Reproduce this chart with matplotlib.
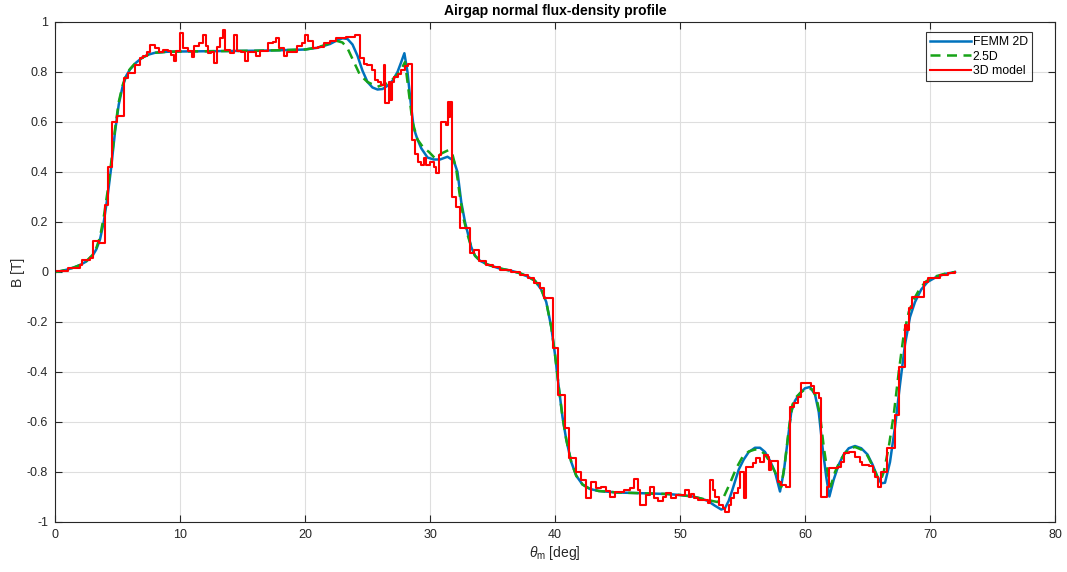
import matplotlib
matplotlib.use("Agg")
import matplotlib.pyplot as plt
from matplotlib.ticker import FuncFormatter

plt.rcParams['font.family'] = ['Liberation Sans', 'DejaVu Sans']
plt.rcParams['axes.unicode_minus'] = False
plt.rcParams['mathtext.fontset'] = 'custom'
plt.rcParams['mathtext.it'] = 'Liberation Sans:italic'
plt.rcParams['mathtext.rm'] = 'Liberation Sans'

# FEMM 2D solution (mechanical angle in deg, normal flux density in T)
theta_femm = [0, 0.5, 1, 1.5, 2, 2.5, 3, 3.3, 3.6, 3.9, 4.2, 4.5, 4.8, 5.1, 5.4,
              5.7, 6.0, 6.5, 7.0, 7.5, 8.0, 9.0, 10, 12, 14, 16, 18, 20, 21, 22,
              22.5, 23.0, 23.4, 23.8, 24.2, 24.6, 25.0, 25.4, 25.8, 26.2, 26.6,
              27.0, 27.4, 27.7, 27.95, 28.2, 28.45, 28.7, 29.0, 29.3, 29.8, 30.3,
              30.8, 31.4, 31.9, 32.2, 32.5, 32.8, 33.0, 33.3, 33.6, 34.0, 34.6,
              35.5, 36.5, 37.2, 37.8, 38.4, 38.9, 39.3, 39.7, 40.0, 40.3, 40.6,
              40.9, 41.3, 41.7, 42.2, 42.8, 43.5, 45, 47, 49, 50.0, 51.0, 51.6,
              52.2, 52.8, 53.3, 53.6, 53.9, 54.2, 54.7, 55.1, 55.5, 56.0, 56.4,
              56.8, 57.2, 57.6, 58.0, 58.3, 58.6, 58.9, 59.2, 59.6, 60.0, 60.4,
              60.8, 61.1, 61.4, 61.7, 61.95, 62.3, 62.7, 63.1, 63.5, 64.0, 64.5,
              65.0, 65.4, 65.8, 66.1, 66.4, 66.8, 67.2, 67.6, 68.0, 68.4, 68.8,
              69.3, 69.8, 70.5, 71.2, 72.0]
b_femm = [0.0, 0.004, 0.01, 0.018, 0.028, 0.042, 0.065, 0.09, 0.13, 0.2, 0.3,
          0.42, 0.56, 0.67, 0.74, 0.785, 0.81, 0.838, 0.858, 0.87, 0.877, 0.881,
          0.882, 0.883, 0.884, 0.885, 0.887, 0.89, 0.897, 0.912, 0.925, 0.935,
          0.932, 0.91, 0.865, 0.805, 0.76, 0.738, 0.73, 0.732, 0.745, 0.765,
          0.8, 0.84, 0.875, 0.8, 0.68, 0.575, 0.53, 0.495, 0.458, 0.45, 0.45,
          0.461, 0.445, 0.4, 0.28, 0.2, 0.16, 0.1, 0.065, 0.045, 0.03, 0.015,
          0.005, -0.005, -0.018, -0.035, -0.07, -0.12, -0.22, -0.33, -0.46,
          -0.58, -0.67, -0.76, -0.815, -0.85, -0.868, -0.876, -0.882, -0.885,
          -0.888, -0.892, -0.898, -0.905, -0.915, -0.935, -0.95, -0.945,
          -0.915, -0.87, -0.79, -0.75, -0.72, -0.703, -0.703, -0.72, -0.755,
          -0.8, -0.878, -0.8, -0.68, -0.56, -0.515, -0.485, -0.465, -0.46,
          -0.49, -0.56, -0.7, -0.82, -0.898, -0.83, -0.77, -0.73, -0.705,
          -0.696, -0.705, -0.73, -0.77, -0.82, -0.845, -0.843, -0.76, -0.62,
          -0.45, -0.29, -0.18, -0.12, -0.07, -0.04, -0.02, -0.008, 0.0]

# 2.5D model
theta_25d = [0, 0.5, 1, 1.5, 2, 2.5, 3, 3.3, 3.6, 3.9, 4.2, 4.5, 4.8, 5.1, 5.4,
             5.7, 6.0, 6.5, 7.0, 7.5, 8.0, 9.0, 10, 12, 14, 16, 18, 20, 21, 22,
             22.5, 23.0, 23.4, 23.9, 24.4, 25.0, 25.8, 26.6, 27.1, 27.6, 28.0,
             28.3, 28.6, 29.0, 29.5, 29.9, 30.4, 30.95, 31.5, 31.8, 32.1, 32.4,
             32.7, 33.0, 33.3, 33.6, 34.0, 34.6, 35.5, 36.5, 37.2, 37.8, 38.4,
             38.9, 39.3, 39.7, 40.0, 40.3, 40.6, 40.9, 41.3, 41.7, 42.2, 42.8,
             43.5, 45, 47, 49, 50.0, 51.0, 51.6, 52.2, 53.0, 53.5, 54.0, 54.5,
             55.0, 55.5, 56.0, 56.4, 56.8, 57.2, 57.6, 58.1, 58.4, 58.7, 59.0,
             59.3, 59.7, 60.2, 60.6, 60.9, 61.2, 61.5, 61.8, 62.05, 62.4, 62.8,
             63.2, 63.6, 64.0, 64.5, 65.0, 65.4, 65.8, 66.05, 66.3, 66.7, 67.1,
             67.5, 67.9, 68.3, 68.7, 69.2, 69.7, 70.4, 71.2, 72.0]
b_25d = [0.0, 0.004, 0.01, 0.018, 0.028, 0.043, 0.068, 0.095, 0.14, 0.22, 0.32,
         0.44, 0.57, 0.68, 0.745, 0.79, 0.812, 0.84, 0.858, 0.87, 0.877, 0.881,
         0.882, 0.883, 0.884, 0.885, 0.887, 0.89, 0.898, 0.915, 0.925, 0.918,
         0.895, 0.841, 0.788, 0.76, 0.741, 0.755, 0.775, 0.801, 0.84, 0.72,
         0.6, 0.53, 0.495, 0.481, 0.455, 0.475, 0.488, 0.47, 0.41, 0.3, 0.21,
         0.15, 0.1, 0.065, 0.045, 0.03, 0.015, 0.005, -0.005, -0.018, -0.035,
         -0.07, -0.12, -0.22, -0.33, -0.46, -0.58, -0.67, -0.76, -0.815, -0.85,
         -0.868, -0.876, -0.882, -0.885, -0.888, -0.892, -0.898, -0.905,
         -0.912, -0.92, -0.9, -0.845, -0.785, -0.74, -0.718, -0.71, -0.712,
         -0.73, -0.76, -0.8, -0.86, -0.76, -0.63, -0.53, -0.5, -0.48, -0.465,
         -0.47, -0.5, -0.57, -0.7, -0.8, -0.858, -0.8, -0.755, -0.725, -0.705,
         -0.7, -0.71, -0.735, -0.775, -0.82, -0.835, -0.8, -0.7, -0.57, -0.4,
         -0.25, -0.16, -0.11, -0.065, -0.037, -0.018, -0.007, 0.0]

# 3D model (piecewise-constant samples, step starts in deg)
theta_3d = [0.0, 1.05, 2.0, 2.15, 2.8, 3.05, 3.5, 4.0, 4.25, 4.55, 4.95, 5.55,
            5.8, 6.4, 6.8, 7.05, 7.35, 7.6, 8.0, 8.3, 8.6, 9.0, 9.3, 9.5, 9.7,
            10.0, 10.25, 10.6, 10.95, 11.1, 11.5, 11.85, 12.1, 12.2, 12.5, 12.7,
            12.95, 13.2, 13.45, 13.6, 14.0, 14.3, 14.55, 14.85, 15.2, 15.45,
            16.1, 16.4, 17.05, 17.4, 17.7, 17.95, 18.3, 18.55, 19.35, 19.75,
            20.0, 20.2, 20.6, 21.0, 21.5, 22.0, 22.5, 23.3, 24.0, 24.4, 24.7,
            24.95, 25.35, 25.6, 25.85, 26.1, 26.3, 26.4, 26.7, 26.8, 26.95,
            27.1, 27.4, 27.65, 28.0, 28.2, 28.55, 28.8, 29.0, 29.3, 29.55, 29.7,
            30.0, 30.3, 30.5, 30.75, 30.9, 31.3, 31.45, 31.55, 31.6, 31.75,
            32.1, 32.4, 33.2, 33.55, 33.95, 34.5, 35.0, 35.6, 36.5, 37.2, 37.8,
            38.3, 38.8, 39.1, 39.8, 40.2, 40.8, 41.1, 41.7, 42.1, 42.5, 42.9,
            43.3, 43.7, 44.1, 44.4, 44.8, 45.5, 46.0, 46.3, 46.6, 46.8, 47.3,
            47.6, 47.9, 48.2, 48.6, 48.9, 49.3, 49.7, 50.4, 50.7, 50.9, 51.1,
            51.4, 52.2, 52.4, 52.6, 52.8, 53.1, 53.4, 53.6, 53.9, 54.1, 54.3,
            54.6, 54.8, 55.1, 55.3, 55.8, 56.1, 56.4, 56.7, 57.0, 57.1, 57.3,
            57.8, 58.05, 58.5, 58.8, 59.1, 59.4, 59.7, 60.5, 60.7, 61.1, 61.3,
            61.75, 61.9, 62.6, 62.85, 63.1, 63.5, 64.0, 64.4, 64.6, 65.1, 65.4,
            65.6, 65.8, 66.05, 66.6, 67.2, 67.5, 68.0, 68.15, 68.3, 68.6, 69.5,
            69.8, 70.8, 71.4, 72.0]
b_3d = [0.003, 0.015, 0.03, 0.05, 0.055, 0.125, 0.115, 0.27, 0.42, 0.60, 0.625,
        0.775, 0.795, 0.83, 0.855, 0.865, 0.88, 0.91, 0.895, 0.88, 0.89, 0.885,
        0.87, 0.845, 0.885, 0.955, 0.895, 0.885, 0.86, 0.905, 0.915, 0.948,
        0.905, 0.875, 0.88, 0.835, 0.90, 0.935, 0.968, 0.89, 0.875, 0.948,
        0.885, 0.88, 0.845, 0.88, 0.865, 0.885, 0.915, 0.92, 0.935, 0.895,
        0.863, 0.88, 0.905, 0.915, 0.948, 0.925, 0.895, 0.90, 0.915, 0.925,
        0.935, 0.94, 0.948, 0.855, 0.834, 0.828, 0.808, 0.768, 0.761, 0.748,
        0.828, 0.675, 0.76, 0.69, 0.761, 0.78, 0.793, 0.81, 0.825, 0.834, 0.53,
        0.473, 0.44, 0.428, 0.455, 0.43, 0.44, 0.42, 0.395, 0.468, 0.60, 0.59,
        0.68, 0.62, 0.68, 0.30, 0.261, 0.175, 0.078, 0.09, 0.045, 0.03, 0.02,
        0.008, 0.0, -0.012, -0.025, -0.045, -0.065, -0.105, -0.305, -0.492,
        -0.625, -0.745, -0.80, -0.832, -0.905, -0.838, -0.865, -0.86, -0.875,
        -0.899, -0.88, -0.87, -0.865, -0.826, -0.87, -0.932, -0.89, -0.86,
        -0.905, -0.915, -0.9, -0.885, -0.905, -0.89, -0.87, -0.9, -0.886,
        -0.905, -0.912, -0.925, -0.832, -0.87, -0.9, -0.93, -0.945, -0.959,
        -0.93, -0.905, -0.885, -0.865, -0.80, -0.905, -0.78, -0.765, -0.745,
        -0.76, -0.732, -0.74, -0.79, -0.755, -0.839, -0.852, -0.86, -0.539,
        -0.525, -0.499, -0.445, -0.455, -0.485, -0.505, -0.899, -0.86, -0.785,
        -0.78, -0.759, -0.725, -0.719, -0.74, -0.759, -0.77, -0.775, -0.80,
        -0.82, -0.859, -0.80, -0.705, -0.572, -0.379, -0.212, -0.232, -0.145,
        -0.099, -0.039, -0.025, -0.012, -0.005, 0.0]

x_ticks = [0, 10, 20, 30, 40, 50, 60, 70, 80]
y_ticks = [-1, -0.8, -0.6, -0.4, -0.2, 0, 0.2, 0.4, 0.6, 0.8, 1]

fig = plt.figure(figsize=(10.67, 5.72), dpi=100)
ax = fig.add_axes([55 / 1067, 50 / 572, 1000 / 1067, 500 / 572])

ax.plot(theta_femm, b_femm, color='#0072BD', lw=1.8, label='FEMM 2D')
ax.plot(theta_25d, b_25d, color='#17a317', lw=1.8, dashes=(4, 2.6),
        label='2.5D')
ax.plot(theta_3d, b_3d, color='#ff0000', lw=1.5, drawstyle='steps-post',
        label='3D model')

ax.set_xlim(0, 80)
ax.set_ylim(-1, 1)
ax.set_xticks(x_ticks)
ax.set_yticks(y_ticks)
ax.yaxis.set_major_formatter(FuncFormatter(lambda v, p: '%g' % round(v, 2)))

ax.grid(True, color='#dedede', lw=0.8)
ax.set_axisbelow(True)
ax.tick_params(direction='in', length=5, width=0.8, top=True, right=True,
               colors='#262626', labelsize=9, pad=5)
for sp in ax.spines.values():
    sp.set_color('#262626')
    sp.set_linewidth(0.8)

ax.set_title('Airgap normal flux-density profile', fontsize=10,
             fontweight='bold', pad=5, color='black')
ax.set_xlabel(r'$\theta_\mathrm{m}$ [deg]', fontsize=10, color='#262626',
              labelpad=2)
ax.set_ylabel('B [T]', fontsize=10, color='#262626', labelpad=1)

leg = ax.legend(loc='upper right', bbox_to_anchor=(0.977, 0.98),
                borderaxespad=0, fontsize=8.8, frameon=True, fancybox=False,
                handlelength=3.3, handletextpad=0.15, labelspacing=0.2,
                borderpad=0.35)
leg.get_frame().set_edgecolor('black')
leg.get_frame().set_linewidth(0.8)

fig.savefig('out.png', dpi=100)
